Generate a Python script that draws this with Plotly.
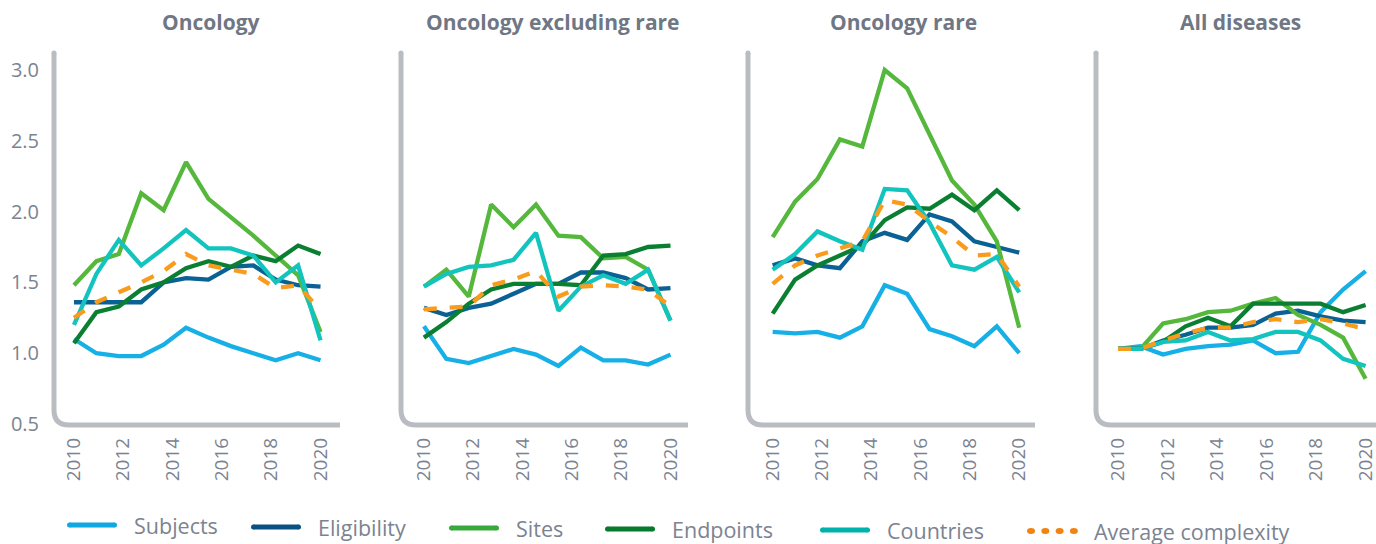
import plotly.graph_objects as go

# ---------------- data ----------------
years = [2010.0, 2010.909, 2011.818, 2012.727, 2013.636, 2014.545,
         2015.455, 2016.364, 2017.273, 2018.182, 2019.091, 2020.0]
tick_years = [2010, 2012, 2014, 2016, 2018, 2020]
y_ticks = [0.5, 1.0, 1.5, 2.0, 2.5, 3.0]
panel_titles = ["Oncology", "Oncology excluding rare", "Oncology rare", "All diseases"]
series_names = ["Subjects", "Eligibility", "Sites", "Endpoints", "Countries", "Average complexity"]

onc_subjects    = [1.10, 1.00, 0.98, 0.98, 1.06, 1.18, 1.11, 1.05, 1.00, 0.95, 1.00, 0.95]
onc_eligibility = [1.36, 1.36, 1.36, 1.36, 1.50, 1.53, 1.52, 1.61, 1.62, 1.52, 1.48, 1.47]
onc_sites       = [1.48, 1.65, 1.70, 2.13, 2.01, 2.35, 2.09, 1.96, 1.83, 1.69, 1.55, 1.15]
onc_endpoints   = [1.07, 1.29, 1.33, 1.45, 1.50, 1.60, 1.65, 1.61, 1.69, 1.65, 1.76, 1.70]
onc_countries   = [1.20, 1.56, 1.80, 1.62, 1.74, 1.87, 1.74, 1.74, 1.69, 1.50, 1.62, 1.09]
onc_average     = [1.25, 1.36, 1.43, 1.50, 1.58, 1.70, 1.62, 1.59, 1.56, 1.46, 1.48, 1.30]

ex_subjects    = [1.19, 0.96, 0.93, 0.98, 1.03, 0.99, 0.91, 1.04, 0.95, 0.95, 0.92, 0.99]
ex_eligibility = [1.32, 1.27, 1.32, 1.35, 1.42, 1.49, 1.49, 1.57, 1.57, 1.53, 1.45, 1.46]
ex_sites       = [1.47, 1.59, 1.40, 2.05, 1.89, 2.05, 1.83, 1.82, 1.67, 1.68, 1.59, 1.23]
ex_endpoints   = [1.11, 1.22, 1.35, 1.45, 1.49, 1.49, 1.49, 1.48, 1.69, 1.70, 1.75, 1.76]
ex_countries   = [1.47, 1.56, 1.61, 1.62, 1.66, 1.85, 1.30, 1.47, 1.55, 1.49, 1.59, 1.23]
ex_average     = [1.31, 1.32, 1.33, 1.48, 1.52, 1.58, 1.40, 1.47, 1.48, 1.47, 1.45, 1.33]

rare_subjects    = [1.15, 1.14, 1.15, 1.11, 1.19, 1.48, 1.42, 1.17, 1.12, 1.05, 1.19, 1.00]
rare_eligibility = [1.62, 1.67, 1.62, 1.60, 1.79, 1.85, 1.80, 1.98, 1.93, 1.79, 1.75, 1.71]
rare_sites       = [1.82, 2.07, 2.23, 2.51, 2.46, 3.00, 2.87, 2.54, 2.22, 2.05, 1.79, 1.18]
rare_endpoints   = [1.28, 1.52, 1.62, 1.69, 1.76, 1.94, 2.03, 2.02, 2.12, 2.01, 2.15, 2.01]
rare_countries   = [1.59, 1.70, 1.86, 1.79, 1.73, 2.16, 2.15, 1.92, 1.62, 1.59, 1.68, 1.43]
rare_average     = [1.49, 1.62, 1.69, 1.74, 1.79, 2.08, 2.05, 1.93, 1.82, 1.69, 1.70, 1.47]

all_subjects    = [1.03, 1.05, 0.99, 1.03, 1.05, 1.06, 1.09, 1.00, 1.01, 1.29, 1.45, 1.58]
all_eligibility = [1.03, 1.03, 1.09, 1.13, 1.18, 1.18, 1.20, 1.28, 1.30, 1.26, 1.23, 1.22]
all_sites       = [1.03, 1.03, 1.21, 1.24, 1.29, 1.30, 1.35, 1.39, 1.27, 1.20, 1.11, 0.82]
all_endpoints   = [1.03, 1.03, 1.08, 1.19, 1.25, 1.19, 1.35, 1.35, 1.35, 1.35, 1.29, 1.34]
all_countries   = [1.03, 1.03, 1.08, 1.09, 1.15, 1.09, 1.10, 1.15, 1.15, 1.09, 0.96, 0.91]
all_average     = [1.03, 1.03, 1.09, 1.14, 1.18, 1.18, 1.22, 1.24, 1.22, 1.24, 1.21, 1.17]

panels = [
    [onc_subjects, onc_eligibility, onc_sites, onc_endpoints, onc_countries, onc_average],
    [ex_subjects, ex_eligibility, ex_sites, ex_endpoints, ex_countries, ex_average],
    [rare_subjects, rare_eligibility, rare_sites, rare_endpoints, rare_countries, rare_average],
    [all_subjects, all_eligibility, all_sites, all_endpoints, all_countries, all_average],
]

# ---------------- style ----------------
W, H = 1376, 544
TOP, BOTTOM = 53, 425
PH = BOTTOM - TOP
line_colors = ["#17b0e6", "#0a6193", "#55b83c", "#0b7f31", "#13c4be", "#f99c1e"]
legend_colors = ["#10a8e0", "#0a5283", "#38aa3b", "#067a2d", "#00b2ac", "#f08312"]
axis_gray = "#b9bdc2"
text_gray = "#7b8391"
title_gray = "#6f7784"
FONT = "Open Sans"

dom_px = [(54, 340), (401, 688), (748, 1035), (1096, 1376)]
x_ranges = [(2009.19, 2020.79), (2009.07, 2020.71), (2009.0, 2020.64), (2009.11, 2020.42)]
title_x_px = [211, 553, 903, 1240]
y_range = (0.493, 3.12)

def py(y_px):
    return (BOTTOM - y_px) / PH

fig = go.Figure()
for p, data in enumerate(panels):
    xa = "x" if p == 0 else f"x{p+1}"
    ya = "y" if p == 0 else f"y{p+1}"
    for s, vals in enumerate(data):
        fig.add_trace(go.Scatter(
            x=years, y=vals, mode="lines", xaxis=xa, yaxis=ya,
            name=series_names[s],
            line=dict(color=line_colors[s], width=4.3,
                      dash="dash" if s == 5 else "solid"),
            showlegend=False, hoverinfo="skip",
        ))

layout = dict(
    width=W, height=H,
    margin=dict(l=0, r=0, t=TOP, b=H - BOTTOM, autoexpand=False),
    paper_bgcolor="white", plot_bgcolor="white",
    font=dict(family=FONT, color=text_gray),
    showlegend=False,
)
annotations = []
shapes = []
for p in range(4):
    k = "" if p == 0 else str(p + 1)
    d0, d1 = dom_px[p][0] / W, dom_px[p][1] / W
    layout[f"xaxis{k}"] = dict(
        domain=[d0, d1], range=list(x_ranges[p]), tickvals=tick_years,
        tickangle=-90, showgrid=False, zeroline=False, showline=False,
        ticks="", tickfont=dict(size=19, color=text_gray), ticklabelstandoff=8,
        ticklabeloverflow="allow",
        anchor="y" if p == 0 else f"y{p+1}",
    )
    layout[f"yaxis{k}"] = dict(
        domain=[0, 1], range=list(y_range), tickvals=y_ticks,
        ticktext=[f"{v:.1f}" for v in y_ticks],
        showticklabels=(p == 0), showgrid=False, zeroline=False, showline=False,
        ticks="", tickfont=dict(size=20, color=text_gray), ticklabelstandoff=14,
        anchor="x" if p == 0 else f"x{p+1}",
    )
    annotations.append(dict(
        text=f"<b>{panel_titles[p]}</b>", x=title_x_px[p] / W, y=py(22),
        xref="paper", yref="paper", showarrow=False, xanchor="center", yanchor="middle",
        font=dict(size=21, color=title_gray, family=FONT),
    ))
    # rounded-corner L-shaped axis
    r = 15
    x0 = d0
    x1 = d1 if p < 3 else 1.01
    rx, ry = r / W, r / PH
    path = f"M {x0},1 L {x0},{ry} Q {x0},0 {x0 + rx},0 L {x1},0"
    shapes.append(dict(type="path", path=path, xref="paper", yref="paper",
                       line=dict(color=axis_gray, width=5), layer="below"))
    # round cap on the top end of the axis
    shapes.append(dict(type="circle", xref="paper", yref="paper",
                       xsizemode="pixel", ysizemode="pixel",
                       xanchor=x0, yanchor=1, x0=-2.5, x1=2.5, y0=-2.5, y1=2.5,
                       fillcolor=axis_gray, line=dict(width=0), layer="below"))

# ---------------- manual legend ----------------
leg_x_px = [67, 251, 449, 605, 820, 1027]
leg_y_px = [525, 527, 528, 529, 530, 531]
SAMPLE_LEN = 50
LW = 5
for s in range(6):
    x0p = leg_x_px[s]
    x1p = x0p + SAMPLE_LEN
    yp = py(leg_y_px[s])
    c = legend_colors[s]
    if s < 5:
        shapes.append(dict(type="line", xref="paper", yref="paper",
                           x0=(x0p + LW / 2) / W, x1=(x1p - LW / 2) / W, y0=yp, y1=yp,
                           line=dict(color=c, width=LW)))
        for xe in (x0p + LW / 2, x1p - LW / 2):
            shapes.append(dict(type="circle", xref="paper", yref="paper",
                               xsizemode="pixel", ysizemode="pixel",
                               xanchor=xe / W, yanchor=yp,
                               x0=-LW / 2, x1=LW / 2, y0=-LW / 2, y1=LW / 2,
                               fillcolor=c, line=dict(width=0)))
    else:
        for i in range(4):
            xc = x0p + 4 + i * 14.3
            shapes.append(dict(type="circle", xref="paper", yref="paper",
                               xsizemode="pixel", ysizemode="pixel",
                               xanchor=xc / W, yanchor=yp,
                               x0=-4, x1=4, y0=-3, y1=3,
                               fillcolor=c, line=dict(width=0)))
    annotations.append(dict(
        text=series_names[s], x=(x1p + 15) / W, y=py(leg_y_px[s]),
        xref="paper", yref="paper", showarrow=False, xanchor="left", yanchor="middle",
        font=dict(size=21.5, color=text_gray, family=FONT),
    ))

layout["annotations"] = annotations
layout["shapes"] = shapes
fig.update_layout(**layout)

fig.write_html("out.html", config={"displayModeBar": False},
               post_script="document.body.style.margin='0';document.body.style.overflow='hidden';")
